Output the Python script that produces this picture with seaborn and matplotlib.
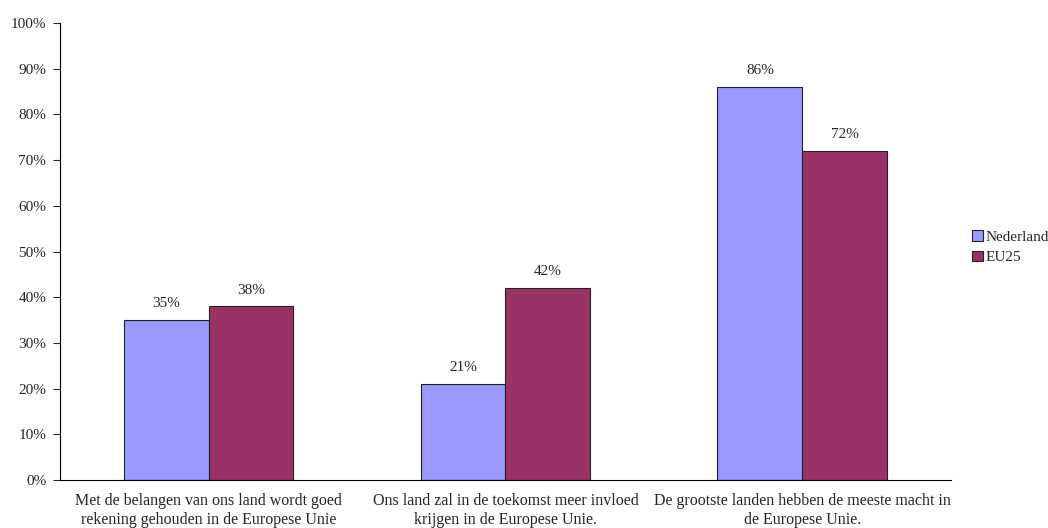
import numpy as np
import pandas as pd
import matplotlib
matplotlib.use("Agg")
import matplotlib.pyplot as plt
import seaborn as sns

categories = [
    "Met de belangen van ons land wordt goed\nrekening gehouden in de Europese Unie",
    "Ons land zal in de toekomst meer invloed\nkrijgen in de Europese Unie.",
    "De grootste landen hebben de meeste macht in\nde Europese Unie.",
]
series = ["Nederland", "EU25"]
nederland = [35, 21, 86]
eu25 = [38, 42, 72]
colors = ["#9999FF", "#993366"]

df = pd.DataFrame({
    "category": categories * 2,
    "series": [series[0]] * 3 + [series[1]] * 3,
    "value": nederland + eu25,
})

sns.set_style("white")
plt.rcParams["font.family"] = ["Liberation Serif", "DejaVu Serif"]
plt.rcParams["font.size"] = 11

fig = plt.figure(figsize=(10.48, 5.28), dpi=100)
ax = fig.add_axes([0.0573, 0.0909, 0.85, 0.8655])

sns.barplot(data=df, x="category", y="value", hue="series",
            palette=colors, width=0.572, edgecolor="#222222",
            linewidth=0.8, saturation=1, ax=ax)

# percentage labels above the bars
for cont in ax.containers:
    ax.bar_label(cont, labels=[f"{v:.0f}%" for v in cont.datavalues],
                 padding=7, fontsize=11)

ax.set_ylim(0, 100)
ax.set_xlim(-0.5, 2.5)
ax.set_yticks(np.arange(0, 101, 10))
ax.set_yticklabels([f"{t}%" for t in range(0, 101, 10)])
ax.set_xlabel("")
ax.set_ylabel("")
ax.tick_params(axis="y", direction="out", length=5, width=0.8, left=True,
               pad=5, labelsize=11)
ax.tick_params(axis="x", length=0, pad=9, labelsize=11.5)
for lbl in ax.get_xticklabels():
    lbl.set_linespacing(1.3)
sns.despine(ax=ax, top=True, right=True)
for side in ["left", "bottom"]:
    ax.spines[side].set_color("black")
    ax.spines[side].set_linewidth(0.8)

ax.legend(loc="center left", bbox_to_anchor=(0.922, 0.532),
          bbox_transform=fig.transFigure, frameon=False,
          handlelength=0.7, handleheight=0.7, handletextpad=0.15,
          labelspacing=0.45, fontsize=11, borderaxespad=0)

fig.savefig("out.png", dpi=100)
